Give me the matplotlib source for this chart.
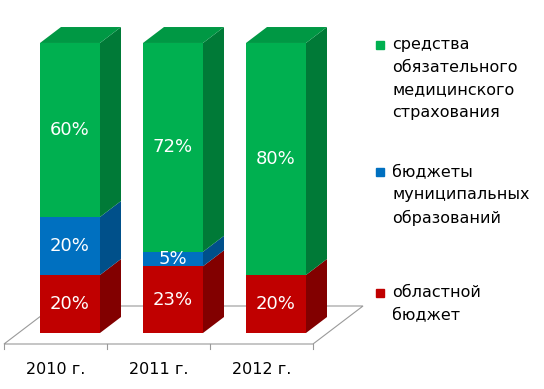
import matplotlib.pyplot as plt
from matplotlib.patches import Polygon

# datos
anios = ["2010 г.", "2011 г.", "2012 г."]
oblastnoy = [20, 23, 20]
municipal = [20, 5, 0]
oms = [60, 72, 80]
series = ["областной\nбюджет",
          "бюджеты\nмуниципальных\nобразований",
          "средства\nобязательного\nмедицинского\nстрахования"]

# colores (frente, lado, arriba)
colores = [("#C00000", "#820000", "#9a0000"),
           ("#0070C0", "#00508A", "#005ea3"),
           ("#00B050", "#007A37", "#009844")]

# perspectiva: desplazamiento de profundidad en unidades de datos
px_cat = 103.0   # pixeles por categoria
px_pct = 2.9     # pixeles por %
DX = 50 / px_cat
DY = 38 / px_pct
z0, z1 = 0.29, 0.71
ancho = 60 / px_cat

fig = plt.figure(figsize=(5.44, 3.89), dpi=100)
ax = fig.add_axes([0, 0, 1, 1])
x0 = -55.5 / px_cat
ax.set_xlim(x0, x0 + 544 / px_cat)
ax.set_ylim(-(389 - 344) / px_pct, 344 / px_pct)
ax.axis("off")

def p(x, y, z):
    return (x + z * DX, y + z * DY)

# piso
n = len(anios)
piso = [p(-0.5, 0, 0), p(n - 0.5, 0, 0), p(n - 0.5, 0, 1), p(-0.5, 0, 1)]
ax.add_patch(Polygon(piso, closed=True, facecolor="white",
                     edgecolor="#9a9a9a", linewidth=0.8, zorder=1))
for i in range(n + 1):
    ax.plot([i - 0.5, i - 0.5], [0, -5 / px_pct], color="#9a9a9a",
            linewidth=0.8, zorder=1)
    
# barras
for i in range(n):
    vals = [oblastnoy[i], municipal[i], oms[i]]
    xl = i - ancho / 2
    xr = i + ancho / 2
    base = 0
    for k, v in enumerate(vals):
        if v == 0:
            continue
        top = base + v
        frente, lado, arriba = colores[k]
        ax.add_patch(Polygon([p(xl, base, z0), p(xr, base, z0),
                              p(xr, top, z0), p(xl, top, z0)],
                             facecolor=frente, edgecolor="none", zorder=3))
        ax.add_patch(Polygon([p(xr, base, z0), p(xr, base, z1),
                              p(xr, top, z1), p(xr, top, z0)],
                             facecolor=lado, edgecolor="none", zorder=3))
        cx, cy = p(i, base + v / 2, z0)
        ax.text(cx, cy, "%d%%" % v, color="white", fontsize=13,
                ha="center", va="center", zorder=4)
        base = top
    frente, lado, arriba = colores[2]
    ax.add_patch(Polygon([p(xl, base, z0), p(xr, base, z0),
                          p(xr, base, z1), p(xl, base, z1)],
                         facecolor=arriba, edgecolor="none", zorder=3))
    ax.text(i, -25.5 / px_pct, anios[i], fontsize=11.5, color="black",
            ha="center", va="center")

# leyenda
ley_y = [45, 172, 293]
ley_idx = [2, 1, 0]
for yy, k in zip(ley_y, ley_idx):
    ax.plot([380 / 544], [1 - yy / 389], marker="s", markersize=5.5,
            color=colores[k][0], transform=ax.transAxes, clip_on=False)
    ax.text(392 / 544, 1 - (yy - 8) / 389, series[k], fontsize=11.5,
            color="black", ha="left", va="top", linespacing=1.63,
            transform=ax.transAxes)

plt.savefig("out.png", dpi=100)
